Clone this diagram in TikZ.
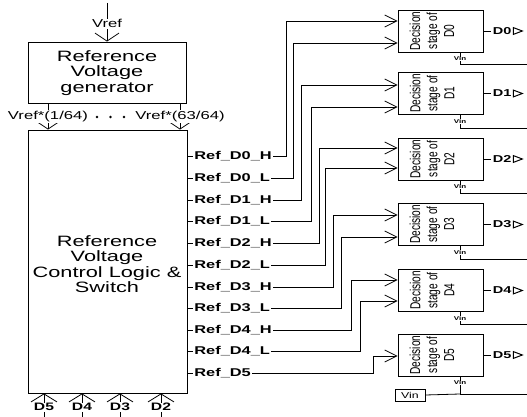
\documentclass[tikz,border=0pt]{standalone}
\usepackage{fontspec}
\setmainfont{Liberation Sans}
\newfontfamily\wide[FakeStretch=1.45]{Liberation Sans}
\newfontfamily\narrow[FakeStretch=0.7]{Liberation Sans}
\usetikzlibrary{arrows.meta}
\begin{document}
\begin{tikzpicture}[x=1pt,y=-1pt,line width=0.8pt,
  box/.style={draw,line width=0.9pt,inner sep=0pt},
  bigtxt/.style={align=center,font=\wide\fontsize{15}{15.5}\selectfont},
  reflbl/.style={fill=white,inner sep=1pt,anchor=west,font=\wide\bfseries\fontsize{11.3}{13}\selectfont},
  vlbl/.style={fill=white,inner sep=0.8pt,font=\wide\fontsize{11.5}{13}\selectfont},
  dlbl/.style={fill=white,inner sep=0.8pt,font=\wide\bfseries\fontsize{10.8}{12}\selectfont},
  outlbl/.style={inner sep=1pt,anchor=west,font=\wide\bfseries\fontsize{10}{12}\selectfont},
  vinl/.style={fill=white,inner sep=0.3pt,font=\wide\bfseries\fontsize{5.5}{6}\selectfont},
  dectxt/.style={rotate=90,align=center,font=\narrow\fontsize{14.5}{16}\selectfont},
  wide arrow/.style={-{Straight Barb[length=8pt,width=24pt]}},
  in arrow/.style={-{Straight Barb[length=12pt,width=12pt]}},
  out arrow/.style={-{Triangle[open,length=11pt,width=8pt,line width=1pt]}}]
\useasboundingbox (0,0) rectangle (527,417);

% generator and main block
\node[box,minimum width=158pt,minimum height=61pt] (gen) at (107,72.5) {};
\node[bigtxt] (gentxt) at (107,73) {Reference\\Voltage\\generator};
\node[box,minimum width=159pt,minimum height=263pt] (main) at (107.5,261.5) {};
\node[bigtxt] (maintxt) at (107,264) {Reference\\Voltage\\Control Logic \&\\Switch};

% Vref input
\coordinate (vtop) at (107,3);
\draw[wide arrow] (vtop) -- node[vlbl,pos=0.54] {Vref} (gen.north);

% generator outputs
\draw[wide arrow] (gen.south -| 48,0) -- node[vlbl] {Vref*(1/64)} (main.north -| 48,0);
\draw[wide arrow] (gen.south -| 180,0) -- node[vlbl] {Vref*(63/64)} (main.north -| 180,0);
\foreach \dx in {97,110.5,124} \fill (\dx,117) circle[radius=1.4pt];

% bottom inputs
\foreach \lab/\bx in {D5/44,D4/82,D3/120,D2/161} {
  \coordinate (b\lab) at (\bx,417);
  \draw[-{Straight Barb[length=8pt,width=26pt]}] (b\lab) -- node[dlbl,pos=0.42] {\lab} (main.south -| b\lab);
}

% decision stages
\foreach \i/\c/\h in {0/31/64,1/93.5/128,2/159/193,3/224.5/259,4/290.5/324,5/355/394} {
  \node[box,minimum width=85pt,minimum height=42pt] (d\i) at (440.5,\c) {};
  \node[dectxt] (t\i) at (432,\c) {Decision\\[1pt]stage of\\[1pt]D\i};
  \node[outlbl] (o\i) at ([xshift=8pt]d\i.east) {D\i};
  \draw (d\i.east) -- (o\i.west);
  \draw[out arrow] (o\i.east) -- ++(11,0);
  \coordinate (v\i) at (460,\h);
  \coordinate (e\i) at (527,\h);
  \draw (d\i.south -| v\i) -- (v\i) -- (e\i);
  \node[vinl] (vl\i) at (460,\c+28) {Vin};
}

% Vin source
\node[box,line width=0.7pt,minimum width=30pt,minimum height=12pt,font=\wide\fontsize{8.5}{10}\selectfont] (vin) at (410,395) {Vin};
\draw (vin.east) -- (v5);

% reference lines
\foreach \n/\txt/\ly/\vx/\ty/\tgt in {
  d0h/Ref\_D0\_H/156.5/286/21/d0,
  d0l/Ref\_D0\_L/178/293/43/d0,
  d1h/Ref\_D1\_H/200/301/85/d1,
  d1l/Ref\_D1\_L/221.5/311/107/d1,
  d2h/Ref\_D2\_H/243/319/148/d2,
  d2l/Ref\_D2\_L/265/325/168/d2,
  d3h/Ref\_D3\_H/287/333/215/d3,
  d3l/Ref\_D3\_L/308/341/237/d3,
  d4h/Ref\_D4\_H/330/351/280/d4,
  d4l/Ref\_D4\_L/351/360/301/d4,
  d5/Ref\_D5/373/373/356/d5} {
  \node[reflbl] (r\n) at (193,\ly) {\txt};
  \draw (main.east |- r\n) -- (r\n.west);
  \draw[in arrow] (r\n.east) -- (\vx,\ly) -- (\vx,\ty) -- (\tgt.west |- 0,\ty);
}
\end{tikzpicture}
\end{document}
